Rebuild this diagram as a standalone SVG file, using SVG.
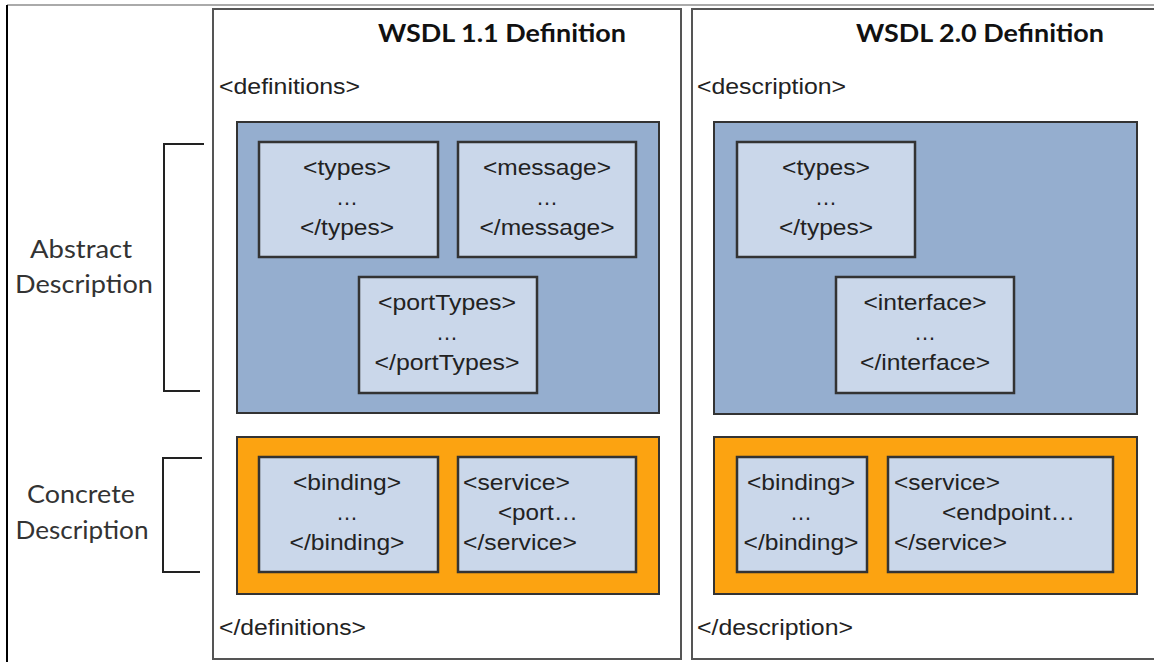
<svg xmlns="http://www.w3.org/2000/svg" width="1154" height="662" viewBox="0 0 1154 662">
<defs>
<style>
.frame{fill:#fff;stroke:#555;stroke-width:2}
.abs{fill:#95aecf;stroke:#333;stroke-width:2}
.con{fill:#fca311;stroke:#333;stroke-width:2}
.inner{fill:#cad7ea;stroke:#333;stroke-width:2.5}
.t{font-family:"Liberation Sans",Arial,sans-serif;font-size:22px;fill:#222}
.c{text-anchor:middle}
.title{font-family:Lato,"Open Sans",sans-serif;font-weight:bold;font-size:25px;fill:#111;text-anchor:middle}
.lbl{font-family:Lato,"Open Sans",sans-serif;font-size:25px;fill:#333;text-anchor:middle}
.br{fill:none;stroke:#222;stroke-width:2}
</style>
</defs>
<rect width="1154" height="662" fill="#fff"/>
<line x1="7" y1="5" x2="1154" y2="5" stroke="#aaa" stroke-width="2"/>
<line x1="7" y1="5" x2="7" y2="662" stroke="#000" stroke-width="2"/>

<g id="left-labels">
<text class="lbl" x="81" y="258" textLength="102" lengthAdjust="spacingAndGlyphs">Abstract</text>
<text class="lbl" x="84" y="293" textLength="138" lengthAdjust="spacingAndGlyphs">Description</text>
<text class="lbl" x="81" y="503" textLength="108" lengthAdjust="spacingAndGlyphs">Concrete</text>
<text class="lbl" x="82" y="539" textLength="133" lengthAdjust="spacingAndGlyphs">Description</text>
</g>
<g id="connectors">
<path class="br" d="M204,144 H164 V391 H200"/>
<path class="br" d="M202,458 H163 V572 H200"/>
</g>

<g id="wsdl11">
<rect class="frame" x="213" y="9" width="468" height="650"/>
<text class="title" x="502" y="42" textLength="248" lengthAdjust="spacingAndGlyphs">WSDL 1.1 Definition</text>
<text class="t" x="219" y="94" textLength="141" lengthAdjust="spacingAndGlyphs">&lt;definitions&gt;</text>
<text class="t" x="219" y="635" textLength="147" lengthAdjust="spacingAndGlyphs">&lt;/definitions&gt;</text>
<g id="wsdl11-abstract">
<rect class="abs" x="237" y="122" width="422" height="291"/>
<g id="wsdl11-types">
<rect class="inner" x="259" y="142" width="179" height="115"/>
<text class="t c" x="347" y="175" textLength="88" lengthAdjust="spacingAndGlyphs">&lt;types&gt;</text>
<text class="t c" x="347" y="205">…</text>
<text class="t c" x="347" y="235" textLength="94" lengthAdjust="spacingAndGlyphs">&lt;/types&gt;</text>
</g>
<g id="wsdl11-message">
<rect class="inner" x="458" y="142" width="178" height="115"/>
<text class="t c" x="547" y="175" textLength="128" lengthAdjust="spacingAndGlyphs">&lt;message&gt;</text>
<text class="t c" x="547" y="205">…</text>
<text class="t c" x="547" y="235" textLength="135" lengthAdjust="spacingAndGlyphs">&lt;/message&gt;</text>
</g>
<g id="wsdl11-porttypes">
<rect class="inner" x="359" y="277" width="178" height="116"/>
<text class="t c" x="447" y="310" textLength="138" lengthAdjust="spacingAndGlyphs">&lt;portTypes&gt;</text>
<text class="t c" x="447" y="340">…</text>
<text class="t c" x="447" y="370" textLength="145" lengthAdjust="spacingAndGlyphs">&lt;/portTypes&gt;</text>
</g>
</g>
<g id="wsdl11-concrete">
<rect class="con" x="237" y="437" width="422" height="157"/>
<g id="wsdl11-binding">
<rect class="inner" x="259" y="457" width="179" height="115"/>
<text class="t c" x="347" y="490" textLength="108" lengthAdjust="spacingAndGlyphs">&lt;binding&gt;</text>
<text class="t c" x="347" y="520">…</text>
<text class="t c" x="347" y="550" textLength="115" lengthAdjust="spacingAndGlyphs">&lt;/binding&gt;</text>
</g>
<g id="wsdl11-service">
<rect class="inner" x="458" y="457" width="178" height="115"/>
<text class="t" x="463" y="490" textLength="107" lengthAdjust="spacingAndGlyphs">&lt;service&gt;</text>
<text class="t" x="498" y="520" textLength="80" lengthAdjust="spacingAndGlyphs">&lt;port…</text>
<text class="t" x="463" y="550" textLength="114" lengthAdjust="spacingAndGlyphs">&lt;/service&gt;</text>
</g>
</g>
</g>

<g id="wsdl20">
<rect class="frame" x="692" y="9" width="470" height="650"/>
<text class="title" x="980" y="42" textLength="248" lengthAdjust="spacingAndGlyphs">WSDL 2.0 Definition</text>
<text class="t" x="697" y="94" textLength="149" lengthAdjust="spacingAndGlyphs">&lt;description&gt;</text>
<text class="t" x="697" y="635" textLength="156" lengthAdjust="spacingAndGlyphs">&lt;/description&gt;</text>
<g id="wsdl20-abstract">
<rect class="abs" x="714" y="122" width="423" height="292"/>
<g id="wsdl20-types">
<rect class="inner" x="737" y="142" width="178" height="115"/>
<text class="t c" x="826" y="175" textLength="88" lengthAdjust="spacingAndGlyphs">&lt;types&gt;</text>
<text class="t c" x="826" y="205">…</text>
<text class="t c" x="826" y="235" textLength="94" lengthAdjust="spacingAndGlyphs">&lt;/types&gt;</text>
</g>
<g id="wsdl20-interface">
<rect class="inner" x="836" y="277" width="178" height="116"/>
<text class="t c" x="925" y="310" textLength="123" lengthAdjust="spacingAndGlyphs">&lt;interface&gt;</text>
<text class="t c" x="925" y="340">…</text>
<text class="t c" x="925" y="370" textLength="130" lengthAdjust="spacingAndGlyphs">&lt;/interface&gt;</text>
</g>
</g>
<g id="wsdl20-concrete">
<rect class="con" x="714" y="437" width="423" height="157"/>
<g id="wsdl20-binding">
<rect class="inner" x="737" y="457" width="130" height="115"/>
<text class="t c" x="801" y="490" textLength="108" lengthAdjust="spacingAndGlyphs">&lt;binding&gt;</text>
<text class="t c" x="801" y="520">…</text>
<text class="t c" x="801" y="550" textLength="115" lengthAdjust="spacingAndGlyphs">&lt;/binding&gt;</text>
</g>
<g id="wsdl20-service">
<rect class="inner" x="888" y="457" width="225" height="115"/>
<text class="t" x="894" y="490" textLength="106" lengthAdjust="spacingAndGlyphs">&lt;service&gt;</text>
<text class="t" x="942" y="520" textLength="133" lengthAdjust="spacingAndGlyphs">&lt;endpoint…</text>
<text class="t" x="894" y="550" textLength="113" lengthAdjust="spacingAndGlyphs">&lt;/service&gt;</text>
</g>
</g>
</g>
</svg>
